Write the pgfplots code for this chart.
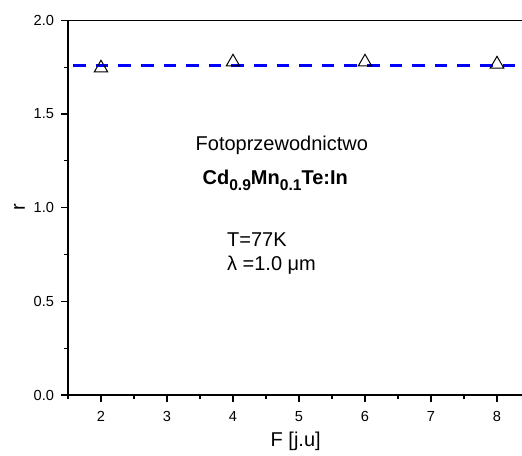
\documentclass[border=0pt]{standalone}
\usepackage{pgfplots}
\pgfplotsset{compat=1.18}
\usepackage{fontspec}
\setmainfont{Liberation Sans}
\newcommand{\sub}[1]{\raisebox{-3pt}{\fontsize{7.8}{8}\selectfont\bfseries #1}}
\begin{document}
\begin{tikzpicture}
\begin{axis}[
  scale only axis,
  width=227.7pt, height=187.35pt,
  xmin=1.5, xmax=8.4, ymin=0, ymax=2.0,
  xtick={2,3,4,5,6,7,8},
  minor xtick={1.5,2.5,3.5,4.5,5.5,6.5,7.5},
  ytick={0,0.5,1.0,1.5,2.0},
  minor ytick={0.25,0.75,1.25,1.75},
  yticklabel style={/pgf/number format/.cd,fixed,fixed zerofill,precision=1},
  /pgf/number format/assume math mode=true,
  xtick pos=left, ytick pos=left,
  tick align=outside,
  major tick length=3.5pt, minor tick length=2pt,
  every tick/.style={black, line width=0.6pt},
  axis line style={line width=0.6pt},
  tick label style={font=\fontsize{7.3}{9}\selectfont},
  xticklabel style={yshift=-1pt},
  xlabel={F [j.u]}, ylabel={r},
  label style={font=\fontsize{10}{12}\selectfont},
  xlabel style={yshift=1.5pt},
  ylabel style={yshift=-2.5pt},
  clip=false,
]
\addplot[only marks, mark=triangle, mark size=3.9pt, mark options={black, line width=0.5pt}]
  coordinates {(2,1.745) (4,1.777) (6,1.777) (8,1.766)};
\addplot[blue, line width=1.5pt, dash pattern=on 6.3pt off 5pt]
  coordinates {(1.58,1.757) (8.4,1.757)};
\node[font=\fontsize{10}{12}\selectfont] at (axis cs:4.74,1.334) {Fotoprzewodnictwo};
\node[font=\fontsize{10}{12}\selectfont\bfseries] at (axis cs:4.64,1.145) {Cd\sub{0.9}Mn\sub{0.1}Te:In};
\node[font=\fontsize{10}{12}\selectfont, anchor=west, inner sep=0pt] at (axis cs:3.905,0.827) {T=77K};
\node[font=\fontsize{10}{12}\selectfont, anchor=west, inner sep=0pt] at (axis cs:3.905,0.694) {λ =1.0 μm};
\end{axis}
\pgfresetboundingbox
\path (-34pt,-30pt) rectangle (227pt,197.5pt);
\end{tikzpicture}
\end{document}
